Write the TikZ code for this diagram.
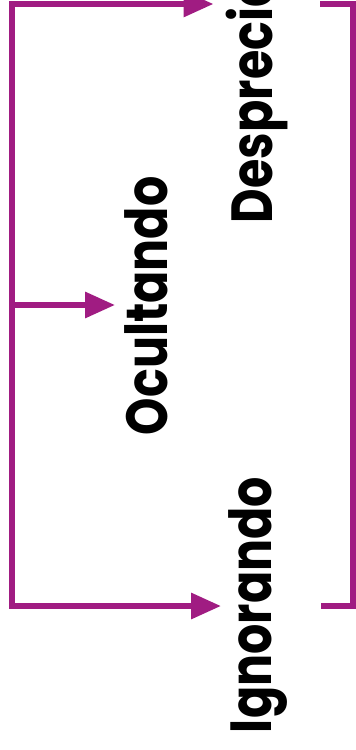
\documentclass[tikz,border=0pt]{standalone}
\usepackage{fontspec}
\setmainfont{Poppins}
\newfontfamily\wordfont{Poppins}[FakeStretch=0.82]
\usetikzlibrary{arrows.meta}
\definecolor{plum}{HTML}{A01C82}

\begin{document}
\begin{tikzpicture}[x=1pt, y=-1pt,
  word/.style={rotate=90, inner sep=0pt, outer sep=0pt, anchor=base west,
    font=\wordfont\fontsize{58}{60}\selectfont\bfseries},
  line/.style={draw=plum, line width=6pt, line join=miter},
  tip/.style={-{Triangle[length=30pt,width=25pt]}}]
  \useasboundingbox (0,0) rectangle (356,750);
  \clip (0,0) rectangle (356,750);
  % the three words
  \node[word] (desp) at (272,223) {Despreciando};
  \node[word] (ocul) at (167,435) {Ocultando};
  \node[word] (ign) at (271,733) {Ignorando};
  % left spine with its three arrows
  \coordinate (top) at (12,4);
  \coordinate (mid) at (12,305);
  \coordinate (bot) at (12,606);
  \draw[line, {Triangle[length=30pt,width=25pt]}-{Triangle[length=30pt,width=25pt]},
    shorten <=12pt, shorten >=7pt]
    (top -| desp.north) -- (top) -- (bot) -- (bot -| ign.north);
  \draw[line, tip, shorten >=9pt] (mid) -- (mid -| ocul.north);
  % right bracket
  \coordinate (rtop) at (320,4);
  \coordinate (rbot) at (321,606);
  \draw[line] (rtop) -- (353,4) -- (353,606) -- (rbot);
\end{tikzpicture}
\end{document}
